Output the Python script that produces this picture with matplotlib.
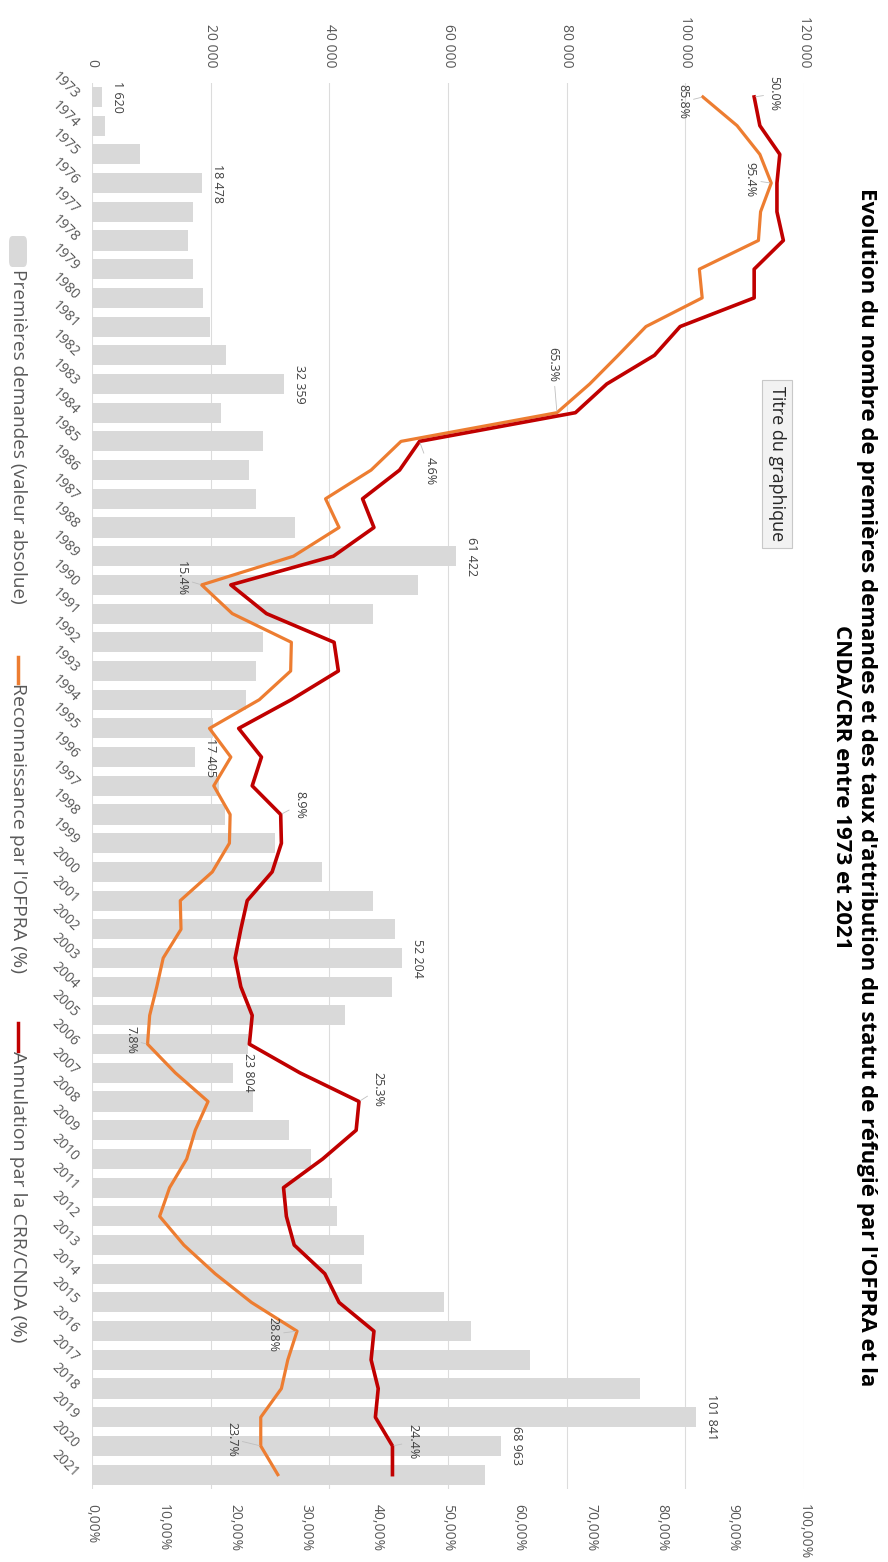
import matplotlib
matplotlib.use("Agg")
import matplotlib.pyplot as plt
from matplotlib.lines import Line2D
from matplotlib.patches import FancyBboxPatch

plt.rcParams['font.family'] = ['Open Sans', 'DejaVu Sans']

# data
years = list(range(1973, 2022))

demandes = [1620, 2200, 8100, 18478, 17100, 16200, 17000, 18700, 19900, 22500,
            32359, 21800, 28900, 26400, 27700, 34200, 61422, 55000, 47400, 28900,
            27600, 26000, 20400, 17405, 21400, 22375, 30907, 38747, 47291, 51087,
            52204, 50547, 42578, 26269, 23804, 27063, 33235, 36931, 40464, 41254,
            45925, 45454, 59335, 63935, 73802, 92400, 101841, 68963, 66300]

ofpra = [85.8, 90.6, 93.8, 95.4, 93.9, 93.6, 85.3, 85.7, 77.8, 73.9,
         69.9, 65.3, 43.4, 39.2, 32.8, 34.7, 28.3, 15.4, 19.7, 28.0,
         27.9, 23.5, 16.5, 19.5, 17.1, 19.4, 19.3, 16.9, 12.4, 12.5,
         10.0, 9.1, 8.1, 7.8, 11.7, 16.3, 14.5, 13.3, 10.9, 9.5,
         12.9, 17.3, 22.4, 28.8, 27.5, 26.6, 23.7, 23.7, 26.1]

cnda = [93.0, 93.8, 96.6, 96.2, 96.2, 97.1, 93.0, 93.0, 82.6, 79.0,
        72.3, 67.9, 46.0, 43.2, 38.0, 39.6, 33.9, 19.5, 24.5, 34.0,
        34.6, 28.0, 20.6, 23.8, 22.5, 26.5, 26.6, 25.3, 21.8, 20.9,
        20.1, 20.9, 22.5, 22.1, 29.2, 37.5, 37.1, 32.4, 26.9, 27.3,
        28.4, 32.7, 34.7, 39.6, 39.2, 40.2, 39.8, 42.2, 42.2]

bar_label_years = [1973, 1976, 1983, 1989, 1996, 2003, 2007, 2019, 2020]
ofpra_label_years = [1973, 1976, 1984, 1990, 2006, 2016, 2020]
ofpra_label_text = ['85.8%', '95.4%', '65.3%', '15.4%', '7.8%', '28.8%', '23.7%']
cnda_label_years = [1973, 1985, 1998, 2008, 2020]
cnda_label_text = ['50.0%', '4.6%', '8.9%', '25.3%', '24.4%']

count_ticks = list(range(0, 120001, 20000))
pct_ticks = list(range(0, 101, 10))

title = ("Evolution du nombre de premières demandes et des taux d'attribution du statut de réfugié par l'OFPRA et la\n"
         "CNDA/CRR entre 1973 et 2021")
legend_names = ["Premières demandes (valeur absolue)", "Reconnaissance par l'OFPRA (%)",
                "Annulation par la CRR/CNDA (%)"]

GREY_BAR = '#d9d9d9'
ORANGE = '#ED7D31'
RED = '#C00000'
TXT = '#595959'

W, H = 888, 1562
fig = plt.figure(figsize=(W / 100, H / 100), dpi=100)

def fx(px):
    return px / W

def fy(py):
    return 1 - py / H

# the chart is drawn turned a quarter turn clockwise
ax = fig.add_axes([fx(92), fy(1489), fx(804) - fx(92), fy(82.6) - fy(1489)])
ax.barh(years, demandes, height=0.7, color=GREY_BAR, zorder=2)
ax.set_xlim(0, 120000)
ax.set_ylim(2021.5, 1972.5)
ax.set_axisbelow(True)
for s in ax.spines.values():
    s.set_visible(False)

ax2 = ax.twiny()
ax2.set_xlim(0, 100)
ax2.set_ylim(2021.5, 1972.5)
for s in ax2.spines.values():
    s.set_visible(False)
ax2.xaxis.tick_bottom()
ax2.set_xticks(pct_ticks)
ax2.set_xticklabels([f"{v},00%" for v in pct_ticks])
ax2.tick_params(axis='x', length=0, pad=11, labelsize=10, labelcolor=TXT, labelrotation=-90)

ax.xaxis.tick_top()
ax.set_xticks(count_ticks)
ax.set_xticklabels([f"{v:,}".replace(',', ' ') for v in count_ticks])
ax.tick_params(axis='x', bottom=False, labelbottom=False, top=True, labeltop=True,
               length=0, pad=11, labelsize=10, labelcolor=TXT, labelrotation=-90)
ax.grid(axis='x', color='#dcdcdc', lw=0.8, zorder=0)
ax.grid(axis='y', visible=False)

ax.set_yticks(years)
ax.set_yticklabels([str(y) for y in years])
ax.tick_params(axis='y', length=0, pad=11, labelsize=10, labelcolor=TXT)
for lab in ax.get_yticklabels():
    lab.set_rotation(-45)
    lab.set_rotation_mode('anchor')
    lab.set_ha('right')
    lab.set_va('center')

for yr in bar_label_years:
    v = demandes[years.index(yr)]
    ax.annotate(f"{v:,}".replace(',', ' '), xy=(v, yr), xytext=(6.5, 0),
                textcoords='offset points', rotation=-90, ha='left', va='center',
                fontsize=9, color='#404040', zorder=5)

ax2.plot(ofpra, years, color=ORANGE, lw=2.3, zorder=3)
ax2.plot(cnda, years, color=RED, lw=2.6, zorder=4)

# label offsets in pixels (right, down)
ofpra_offsets = [(-20, 5), (-21, -3), (-4, -48), (-20, -6), (-17, -4), (-24, 3), (-29, -7)]
cnda_offsets = [(20, -3), (11, 30), (19, -10), (19, -12), (20, -4)]

def pct_label(vals, yrs, texts, offs):
    for yr, t, (dx, dy) in zip(yrs, texts, offs):
        v = vals[years.index(yr)]
        ax2.annotate(t, xy=(v, yr), xytext=(dx * 0.72, -dy * 0.72), textcoords='offset points',
                     rotation=-90, ha='center', va='center', fontsize=9, color='#404040',
                     arrowprops=dict(arrowstyle='-', color='#bfbfbf', lw=0.6,
                                     shrinkA=1, shrinkB=1), zorder=6)

pct_label(ofpra, ofpra_label_years, ofpra_label_text, ofpra_offsets)
pct_label(cnda, cnda_label_years, cnda_label_text, cnda_offsets)

# title
fig.text(fx(854), fy(787), title, rotation=-90, ha='center', va='center',
         fontsize=16, fontweight='bold', color='black', linespacing=1.3,
         multialignment='center')

# leftover default title box
fig.text(fx(777), fy(464), "Titre du graphique", rotation=-90, ha='center', va='center',
         fontsize=13, color='#262626',
         bbox=dict(boxstyle='square,pad=0.35', fc='#f2f2f2', ec='#c8c8c8', lw=0.8))

# legend
fig.patches.append(FancyBboxPatch((fx(9), fy(267)), fx(18), 31 / H,
                                  boxstyle='round,pad=0,rounding_size=0.004',
                                  fc=GREY_BAR, ec='none', transform=fig.transFigure))
fig.text(fx(18), fy(269), legend_names[0], rotation=-90, ha='center', va='top',
         fontsize=13.7, color=TXT)
fig.lines.append(Line2D([fx(18), fx(18)], [fy(657), fy(683)], color=ORANGE, lw=2.5,
                        transform=fig.transFigure))
fig.text(fx(18), fy(683), legend_names[1], rotation=-90, ha='center', va='top',
         fontsize=14, color=TXT)
fig.lines.append(Line2D([fx(18), fx(18)], [fy(1023), fy(1051)], color=RED, lw=2.5,
                        transform=fig.transFigure))
fig.text(fx(18), fy(1051), legend_names[2], rotation=-90, ha='center', va='top',
         fontsize=14, color=TXT)

fig.savefig('out.png', dpi=100)
